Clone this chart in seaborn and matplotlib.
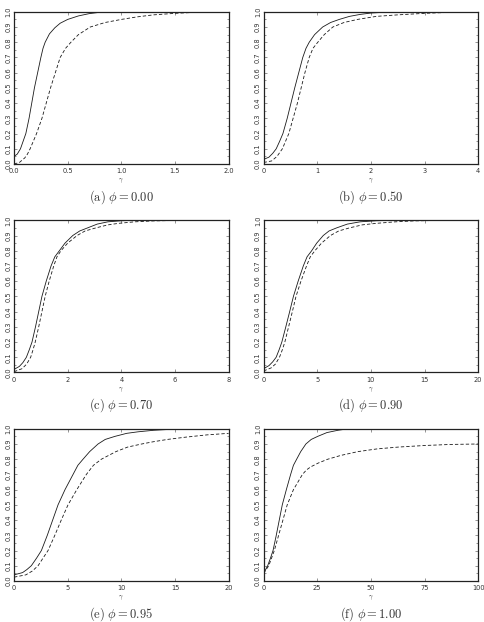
import matplotlib
matplotlib.use("Agg")
import matplotlib.pyplot as plt
import seaborn as sns
from matplotlib.ticker import MultipleLocator, FormatStrFormatter

# panel captions and x ranges
labels = ["a", "b", "c", "d", "e", "f"]
phis = ["0.00", "0.50", "0.70", "0.90", "0.95", "1.00"]
xmax = [2, 4, 8, 20, 20, 100]
xstep = [0.5, 1, 2, 5, 5, 25]

# solid curves
a_solid_x = [0, 0.03, 0.06, 0.085, 0.11, 0.14, 0.165, 0.19, 0.22, 0.25, 0.27, 0.29, 0.33, 0.38, 0.43, 0.5, 0.6, 0.7, 0.8, 1.0, 2.0]
a_solid_y = [0.05, 0.065, 0.1, 0.15, 0.2, 0.3, 0.4, 0.5, 0.6, 0.7, 0.76, 0.8, 0.855, 0.895, 0.925, 0.95, 0.973, 0.988, 0.997, 1.0, 1.0]
b_solid_x = [0, 0.1, 0.17, 0.235, 0.3, 0.36, 0.44, 0.51, 0.58, 0.655, 0.73, 0.79, 0.85, 0.95, 1.1, 1.25, 1.41, 1.6, 1.8, 2.0, 2.3, 2.6, 4.0]
b_solid_y = [0.03, 0.045, 0.07, 0.1, 0.15, 0.2, 0.3, 0.4, 0.5, 0.6, 0.7, 0.76, 0.8, 0.85, 0.9, 0.93, 0.95, 0.97, 0.983, 0.992, 0.998, 1.0, 1.0]
c_solid_x = [0, 0.2, 0.33, 0.46, 0.57, 0.67, 0.8, 0.92, 1.04, 1.2, 1.38, 1.52, 1.69, 1.9, 2.19, 2.45, 2.74, 3.1, 3.5, 4.0, 4.5, 8]
c_solid_y = [0.02, 0.04, 0.065, 0.1, 0.15, 0.2, 0.3, 0.4, 0.5, 0.6, 0.7, 0.76, 0.8, 0.85, 0.9, 0.93, 0.95, 0.975, 0.99, 0.997, 1.0, 1.0]
d_solid_x = [0, 0.5, 0.85, 1.17, 1.45, 1.7, 2.07, 2.43, 2.78, 3.22, 3.7, 4.05, 4.48, 4.95, 5.56, 6.1, 6.8, 7.8, 9.0, 10.5, 12, 20]
d_solid_y = [0.025, 0.045, 0.07, 0.1, 0.15, 0.2, 0.3, 0.4, 0.5, 0.6, 0.7, 0.76, 0.8, 0.85, 0.9, 0.93, 0.95, 0.975, 0.99, 0.997, 1.0, 1.0]
e_solid_x = [0, 0.8, 1.2, 1.61, 2.1, 2.55, 3.1, 3.6, 4.1, 4.75, 5.5, 5.95, 6.43, 7.05, 7.83, 8.5, 9.4, 10.5, 11.55, 13, 15, 17, 20]
e_solid_y = [0.04, 0.055, 0.075, 0.1, 0.15, 0.2, 0.3, 0.4, 0.5, 0.6, 0.7, 0.76, 0.8, 0.85, 0.9, 0.93, 0.95, 0.97, 0.98, 0.99, 0.998, 1.0, 1.0]
f_solid_x = [0, 1.9, 3.2, 4.4, 5.9, 7.3, 8.7, 10.6, 12.6, 13.9, 15.4, 17.3, 19.7, 22.2, 25.2, 29.5, 34.6, 38, 42, 100]
f_solid_y = [0.05, 0.1, 0.15, 0.2, 0.3, 0.4, 0.5, 0.6, 0.7, 0.76, 0.8, 0.85, 0.9, 0.93, 0.95, 0.975, 0.99, 0.997, 1.0, 1.0]

# dashed curves
a_dash_x = [0, 0.05, 0.1, 0.125, 0.15, 0.18, 0.21, 0.26, 0.30, 0.34, 0.385, 0.43, 0.48, 0.53, 0.6, 0.71, 0.85, 1.0, 1.15, 1.3, 1.5, 1.7, 2.0]
a_dash_y = [0.0, 0.01, 0.04, 0.065, 0.1, 0.15, 0.2, 0.3, 0.4, 0.5, 0.6, 0.7, 0.76, 0.8, 0.85, 0.9, 0.93, 0.95, 0.967, 0.98, 0.99, 0.997, 1.0]
b_dash_x = [0, 0.15, 0.25, 0.35, 0.41, 0.47, 0.55, 0.63, 0.70, 0.77, 0.85, 0.92, 1.01, 1.13, 1.29, 1.5, 1.75, 2.1, 2.5, 3.0, 3.5, 4.0]
b_dash_y = [0.01, 0.02, 0.05, 0.1, 0.15, 0.2, 0.3, 0.4, 0.5, 0.6, 0.7, 0.76, 0.8, 0.85, 0.9, 0.93, 0.95, 0.97, 0.98, 0.99, 0.997, 1.0]
c_dash_x = [0, 0.3, 0.47, 0.62, 0.71, 0.79, 0.92, 1.04, 1.16, 1.31, 1.48, 1.6, 1.75, 2.0, 2.35, 2.65, 3.05, 3.5, 3.9, 4.5, 5.2, 6, 8]
c_dash_y = [0.005, 0.025, 0.055, 0.1, 0.15, 0.2, 0.3, 0.4, 0.5, 0.6, 0.7, 0.76, 0.8, 0.85, 0.9, 0.93, 0.95, 0.97, 0.98, 0.99, 0.996, 0.999, 1.0]
d_dash_x = [0, 0.7, 1.1, 1.48, 1.75, 1.98, 2.33, 2.68, 3.02, 3.48, 4.0, 4.35, 4.78, 5.4, 6.23, 7.0, 8.0, 9.2, 10.5, 12.3, 14, 16, 20]
d_dash_y = [0.01, 0.03, 0.055, 0.1, 0.15, 0.2, 0.3, 0.4, 0.5, 0.6, 0.7, 0.76, 0.8, 0.85, 0.9, 0.93, 0.95, 0.97, 0.98, 0.99, 0.996, 0.999, 1.0]
e_dash_x = [0, 1.1, 1.7, 2.24, 2.7, 3.17, 3.8, 4.4, 5.03, 5.85, 6.74, 7.4, 8.14, 9.5, 10.6, 11.9, 13.0, 14.3, 16, 18, 20]
e_dash_y = [0.025, 0.04, 0.065, 0.1, 0.15, 0.2, 0.3, 0.4, 0.5, 0.6, 0.7, 0.76, 0.8, 0.85, 0.88, 0.9, 0.915, 0.93, 0.945, 0.96, 0.97]
f_dash_x = [0, 2.4, 3.7, 5.0, 7.0, 9.0, 11.0, 13.9, 18.1, 20, 22, 25.5, 29.9, 36, 44, 53, 63, 75, 87, 100]
f_dash_y = [0.05, 0.1, 0.15, 0.2, 0.3, 0.4, 0.5, 0.6, 0.7, 0.73, 0.75, 0.775, 0.8, 0.825, 0.85, 0.868, 0.88, 0.89, 0.897, 0.9]

solids = [(a_solid_x, a_solid_y), (b_solid_x, b_solid_y), (c_solid_x, c_solid_y),
          (d_solid_x, d_solid_y), (e_solid_x, e_solid_y), (f_solid_x, f_solid_y)]
dashes = [(a_dash_x, a_dash_y), (b_dash_x, b_dash_y), (c_dash_x, c_dash_y),
          (d_dash_x, d_dash_y), (e_dash_x, e_dash_y), (f_dash_x, f_dash_y)]

sns.set_style("ticks")
plt.rcParams["font.family"] = ["DejaVu Sans"]
plt.rcParams["mathtext.fontset"] = "cm"
plt.rcParams["xtick.direction"] = "in"
plt.rcParams["ytick.direction"] = "in"

fig, axes = plt.subplots(3, 2, figsize=(4.84, 6.22), dpi=100)
fig.subplots_adjust(left=0.029, right=0.988, top=0.981, bottom=0.066,
                    wspace=0.163, hspace=0.37)

for i, ax in enumerate(axes.flat):
    sx, sy = solids[i]
    dx, dy = dashes[i]
    sns.lineplot(x=sx, y=sy, ax=ax, color="#1a1a1a", lw=0.6, estimator=None, sort=False)
    sns.lineplot(x=dx, y=dy, ax=ax, color="#1a1a1a", lw=0.6, estimator=None, sort=False,
                 linestyle=(0, (4, 2.5)))
    ax.set_xlim(0, xmax[i])
    ax.set_ylim(0, 1)
    ax.xaxis.set_major_locator(MultipleLocator(xstep[i]))
    ax.yaxis.set_major_locator(MultipleLocator(0.1))
    ax.yaxis.set_minor_locator(MultipleLocator(0.05))
    if xmax[i] <= 2:
        ax.xaxis.set_major_formatter(FormatStrFormatter("%.1f"))
    else:
        ax.xaxis.set_major_formatter(FormatStrFormatter("%d"))
    ax.yaxis.set_major_formatter(FormatStrFormatter("%.1f"))
    ax.tick_params(which="both", top=True, right=True, labelsize=4.8,
                   width=0.4, color="#444444", labelcolor="#333333")
    ax.tick_params(axis="x", pad=3)
    ax.tick_params(axis="y", pad=2)
    ax.tick_params(which="major", length=2.5)
    ax.tick_params(which="minor", length=1.5)
    for lab in ax.get_yticklabels():
        lab.set_rotation(90)
        lab.set_va("center")
    for sp in ax.spines.values():
        sp.set_linewidth(0.9)
        sp.set_color("#222222")
    ax.set_xlabel(r"$\gamma$", fontsize=5, labelpad=2, color="#333333")
    ax.set_ylabel("")
    ax.text(0.5, -0.215, r"$\mathrm{(%s)}\ \phi = %s$" % (labels[i], phis[i]),
            transform=ax.transAxes, ha="center", va="center", fontsize=9, color="#333333")

fig.savefig("out.png", dpi=100)
